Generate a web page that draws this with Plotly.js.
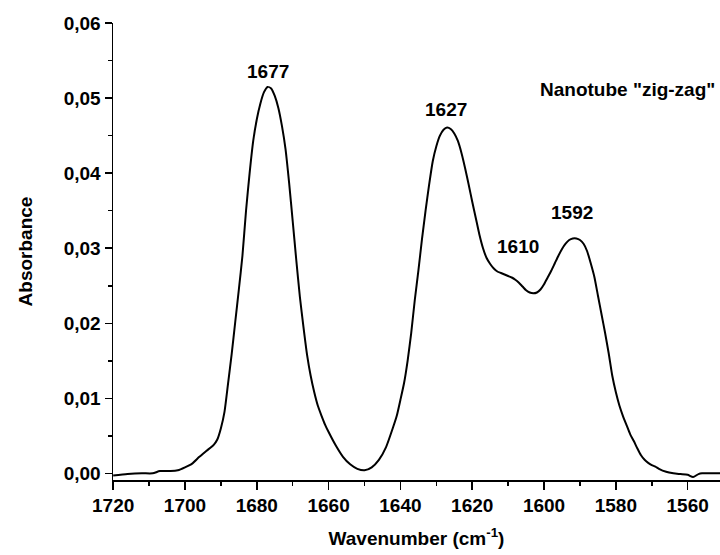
<!DOCTYPE html>
<html>
<head>
<meta charset="utf-8">
<script src="https://cdn.plot.ly/plotly-3.0.1.min.js"></script>
<style>html,body{margin:0;padding:0;background:#fff;}#chart{width:720px;height:555px;}</style>
</head>
<body>
<div id="chart"></div>
<script>
// Wavenumber (cm^-1) and absorbance
const wavenumber = [1720,1716,1712,1709,1707,1704,1702,1700,1698,1696,1694,1692,1691,1690,1689,1688,1687,1686,1685,1684,1683,1682,1681,1680,1679,1678,1677,1676,1675,1674,1673,1672,1671,1670,1669,1668,1667,1666,1665,1664,1663,1662,1661,1660,1658,1656,1654,1652,1650,1648,1646,1644,1642,1641,1640,1639,1638,1637,1636,1635,1634,1633,1632,1631,1630,1629,1628,1627,1626,1625,1624,1623,1622,1621,1620,1619,1618,1617,1616,1615,1614,1613,1612,1611,1610,1609,1608,1607,1606,1605,1604,1603,1602,1601,1600,1599,1598,1597,1596,1595,1594,1593,1592,1591,1590,1589,1588,1587,1586,1585,1584,1583,1582,1581,1580,1579,1578,1577,1576,1575,1574,1573,1572,1571,1570,1569,1568,1566,1564,1562,1560,1558.5,1557,1556,1551];
const absorbance = [-0.0003,-0.0001,0.0000,0.0000,0.0003,0.0003,0.0004,0.0008,0.0013,0.0022,0.0030,0.0038,0.0045,0.0060,0.0082,0.0120,0.0159,0.0202,0.0245,0.0290,0.0350,0.0400,0.0443,0.0472,0.0493,0.0508,0.0515,0.0513,0.0503,0.0487,0.0463,0.0432,0.0387,0.0336,0.0284,0.0235,0.0195,0.0158,0.0130,0.0108,0.0090,0.0077,0.0065,0.0055,0.0037,0.0022,0.0012,0.0006,0.0004,0.0008,0.0018,0.0035,0.0062,0.0077,0.0098,0.0120,0.0150,0.0187,0.0231,0.0270,0.0312,0.0350,0.0385,0.0416,0.0436,0.0450,0.0458,0.0461,0.0459,0.0453,0.0443,0.0427,0.0407,0.0385,0.0362,0.0340,0.0318,0.0300,0.0287,0.0279,0.0273,0.0269,0.0267,0.0265,0.0263,0.0261,0.0258,0.0254,0.0249,0.0244,0.0241,0.0240,0.0241,0.0245,0.0252,0.0261,0.0270,0.0280,0.0290,0.0299,0.0306,0.0311,0.0313,0.0313,0.0311,0.0306,0.0296,0.0280,0.0262,0.0237,0.0212,0.0187,0.0160,0.0130,0.0108,0.0090,0.0076,0.0064,0.0052,0.0043,0.0033,0.0024,0.0018,0.0014,0.0011,0.0009,0.0006,0.0002,0.0000,-0.0001,-0.0002,-0.0005,-0.0001,0.0000,0.0000];

// Peak labels
const peakLabels = ["1677","1627","1610","1592"];
const peakX = [1677,1627.2,1607.2,1592.3];
const peakY = [0.0536,0.0485,0.0302,0.0347];
const sampleLabel = 'Nanotube "zig-zag"';

const FONT = "Liberation Sans, Arial, Helvetica, sans-serif";

const trace = {
  x: wavenumber, y: absorbance, type: 'scatter', mode: 'lines',
  line: {color: '#000', width: 2, shape: 'spline', smoothing: 0.6},
  hoverinfo: 'skip'
};

const annotations = peakLabels.map((t, i) => ({
  text: t, x: peakX[i], y: peakY[i], xref: 'x', yref: 'y',
  showarrow: false, xanchor: 'center', yanchor: 'middle',
  font: {family: FONT, size: 19, color: '#000', weight: 700}
}));
annotations.push({
  text: sampleLabel, xref: 'paper', yref: 'paper', x: 0.995, y: 0.855,
  showarrow: false, xanchor: 'right', yanchor: 'middle',
  font: {family: FONT, size: 19, color: '#000', weight: 700}
});

const layout = {
  width: 720, height: 555,
  margin: {l: 113, r: 0, t: 23, b: 75, pad: 0},
  paper_bgcolor: '#fff', plot_bgcolor: '#fff',
  separators: ',.',
  showlegend: false,
  font: {family: FONT, color: '#000', size: 19, weight: 700},
  xaxis: {
    range: [1720.05, 1551], showgrid: false, zeroline: false,
    showline: true, linecolor: '#000', linewidth: 1.5, mirror: false,
    ticks: 'outside', ticklen: 8, tickwidth: 1.5, tickcolor: '#000',
    tick0: 1720, dtick: 20, tickformat: 'd',
    tickfont: {family: FONT, size: 19, color: '#000', weight: 700},
    minor: {ticks: 'outside', ticklen: 4, tickwidth: 1.5, tickcolor: '#000', dtick: 10, showgrid: false},
    title: {text: 'Wavenumber (cm<sup>-1</sup>)', standoff: 16,
            font: {family: FONT, size: 19, color: '#000', weight: 700}}
  },
  yaxis: {
    range: [-0.00089, 0.06002], showgrid: false, zeroline: false,
    showline: true, linecolor: '#000', linewidth: 1.5, mirror: false,
    ticks: 'outside', ticklen: 7, tickwidth: 1.5, tickcolor: '#000',
    tick0: 0, dtick: 0.01, tickformat: '.2f',
    tickfont: {family: FONT, size: 19, color: '#000', weight: 700},
    minor: {ticks: 'outside', ticklen: 4, tickwidth: 1.5, tickcolor: '#000', dtick: 0.005, showgrid: false},
    title: {text: 'Absorbance', standoff: 26,
            font: {family: FONT, size: 19, color: '#000', weight: 700}}
  },
  annotations: annotations
};

Plotly.newPlot('chart', [trace], layout, {staticPlot: true, displayModeBar: false});
</script>
</body>
</html>
